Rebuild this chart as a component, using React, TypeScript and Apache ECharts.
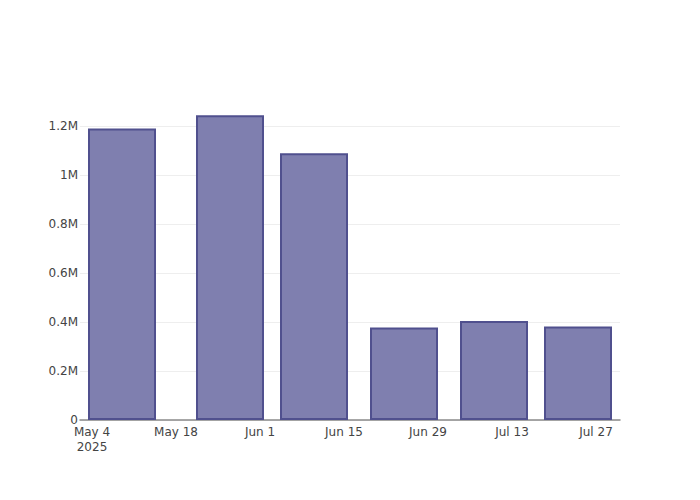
import React, { useEffect, useRef } from "react";
import * as echarts from "echarts";

const barDates: [number, number, number][] = [
  [2025, 5, 9],
  [2025, 5, 27],
  [2025, 6, 10],
  [2025, 6, 25],
  [2025, 7, 10],
  [2025, 7, 24],
];
const barValues: number[] = [1190000, 1244000, 1089000, 378000, 404000, 382000];
const xTickDates: [number, number, number][] = [
  [2025, 5, 4],
  [2025, 5, 18],
  [2025, 6, 1],
  [2025, 6, 15],
  [2025, 6, 29],
  [2025, 7, 13],
  [2025, 7, 27],
];
const yTicks: number[] = [0, 200000, 400000, 600000, 800000, 1000000, 1200000];
const xRange: [number, number, number][] = [
  [2025, 5, 2],
  [2025, 7, 31],
];
const yMax = 1306000;

const MONTHS = ["Jan", "Feb", "Mar", "Apr", "May", "Jun", "Jul", "Aug", "Sep", "Oct", "Nov", "Dec"];
const toTs = (d: [number, number, number]) => new Date(d[0], d[1] - 1, d[2]).getTime();

export default function App() {
  const ref = useRef<HTMLDivElement>(null);
  useEffect(() => {
    if (!ref.current) return;
    const chart = echarts.init(ref.current, null, { renderer: "svg" });
    const firstTick = toTs(xTickDates[0]);
    chart.setOption({
      animation: false,
      textStyle: { fontFamily: "DejaVu Sans" },
      grid: { left: 80, right: 80, top: 100, bottom: 80 },
      xAxis: {
        type: "value",
        min: toTs(xRange[0]),
        max: toTs(xRange[1]),
        axisLine: { show: true, onZero: false, lineStyle: { color: "#8a8a8a", width: 1.5 } },
        axisTick: { show: false },
        splitLine: { show: false },
        axisLabel: {
          customValues: xTickDates.map(toTs),
          color: "#444",
          fontSize: 12,
          fontFamily: "DejaVu Sans",
          margin: 4,
          lineHeight: 15,
          hideOverlap: false,
          formatter: (v: number) => {
            const d = new Date(v);
            const s = MONTHS[d.getMonth()] + " " + d.getDate();
            return Math.abs(v - firstTick) < 1000 ? s + "\n" + d.getFullYear() : s;
          },
        },
      },
      yAxis: {
        type: "value",
        min: 0,
        max: yMax,
        interval: 200000,
        axisLine: { show: false },
        axisTick: { show: false },
        splitLine: { show: true, showMaxLine: false, lineStyle: { color: "#eeeeee", width: 1 } },
        axisLabel: {
          customValues: yTicks,
          color: "#444",
          fontSize: 12,
          fontFamily: "DejaVu Sans",
          margin: 2,
          formatter: (v: number) => (v === 0 ? "0" : v / 1e6 + "M"),
        },
      },
      series: [
        {
          type: "bar",
          barWidth: 68,
          data: barDates.map((d, i) => [toTs(d), barValues[i]]),
          itemStyle: {
            color: "#7f7faf",
            borderColor: "#50508e",
            borderWidth: 2,
          },
        },
      ],
    });
    return () => chart.dispose();
  }, []);
  return (
    <div
      ref={ref}
      style={{ position: "absolute", left: 0, top: 0, width: 700, height: 500 }}
    />
  );
}
